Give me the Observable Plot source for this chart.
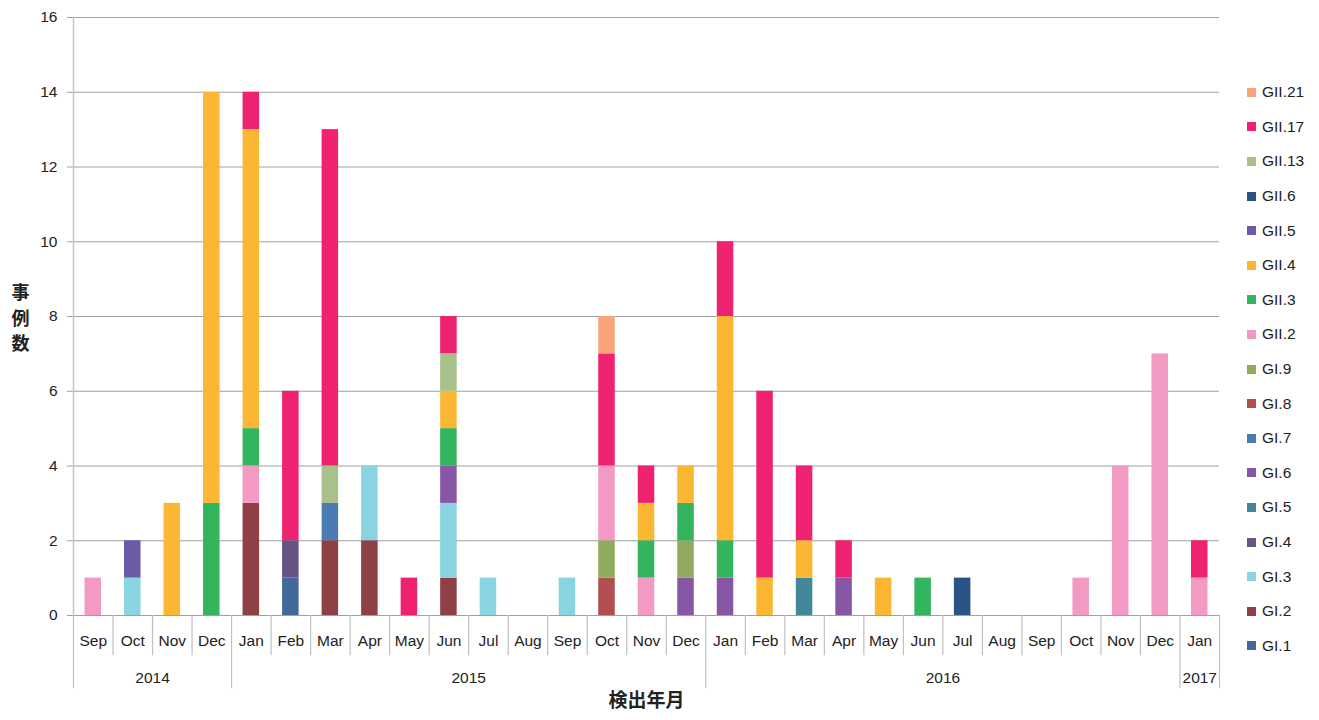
<!DOCTYPE html>
<html>
<head>
<meta charset="utf-8">
<script src="https://cdn.jsdelivr.net/npm/d3@7"></script>
<script src="https://cdn.jsdelivr.net/npm/@observablehq/plot@0.6"></script>
<style>
  body { margin: 0; background: #fff; }
  #wrap { position: relative; width: 1319px; height: 720px; font-family: "Liberation Sans", Arial, sans-serif; }
  #legend { position: absolute; left: 1247px; top: 75px; }
  .item { height: 34.6px; display: flex; align-items: center; font-size: 15.5px; color: #222; }
  .sw { width: 9px; height: 9px; margin-right: 6px; }
</style>
</head>
<body>
<div id="wrap"><div id="legend"></div></div>
<script>
const months = ["Sep","Oct","Nov","Dec","Jan","Feb","Mar","Apr","May","Jun","Jul","Aug","Sep","Oct","Nov","Dec","Jan","Feb","Mar","Apr","May","Jun","Jul","Aug","Sep","Oct","Nov","Dec","Jan"];
const yearLabels = ["2014","2015","2016","2017"];
const yearStart = [0, 4, 16, 28];
const yearEnd = [4, 16, 28, 29];

const genotypes = ["GI.1","GI.2","GI.3","GI.4","GI.5","GI.6","GI.7","GI.8","GI.9","GII.2","GII.3","GII.4","GII.5","GII.6","GII.13","GII.17","GII.21"];
const colors = ["#426998","#8E4045","#8AD3E0","#675485","#43879B","#8756A4","#4C7AB2","#B04E50","#8FAB5E","#F29AC3","#33B55E","#FBB733","#6B5BA7","#2A5486","#A8C08A","#EE2270","#F7A47A"];

//            S  O  N  D  J  F  M  A  M  J  J  A  S  O  N  D  J  F  M  A  M  J  J  A  S  O  N  D  J
const GI_1  = [0, 0, 0, 0, 0, 1, 0, 0, 0, 0, 0, 0, 0, 0, 0, 0, 0, 0, 0, 0, 0, 0, 0, 0, 0, 0, 0, 0, 0];
const GI_2  = [0, 0, 0, 0, 3, 0, 2, 2, 0, 1, 0, 0, 0, 0, 0, 0, 0, 0, 0, 0, 0, 0, 0, 0, 0, 0, 0, 0, 0];
const GI_3  = [0, 1, 0, 0, 0, 0, 0, 2, 0, 2, 1, 0, 1, 0, 0, 0, 0, 0, 0, 0, 0, 0, 0, 0, 0, 0, 0, 0, 0];
const GI_4  = [0, 0, 0, 0, 0, 1, 0, 0, 0, 0, 0, 0, 0, 0, 0, 0, 0, 0, 0, 0, 0, 0, 0, 0, 0, 0, 0, 0, 0];
const GI_5  = [0, 0, 0, 0, 0, 0, 0, 0, 0, 0, 0, 0, 0, 0, 0, 0, 0, 0, 1, 0, 0, 0, 0, 0, 0, 0, 0, 0, 0];
const GI_6  = [0, 0, 0, 0, 0, 0, 0, 0, 0, 1, 0, 0, 0, 0, 0, 1, 1, 0, 0, 1, 0, 0, 0, 0, 0, 0, 0, 0, 0];
const GI_7  = [0, 0, 0, 0, 0, 0, 1, 0, 0, 0, 0, 0, 0, 0, 0, 0, 0, 0, 0, 0, 0, 0, 0, 0, 0, 0, 0, 0, 0];
const GI_8  = [0, 0, 0, 0, 0, 0, 0, 0, 0, 0, 0, 0, 0, 1, 0, 0, 0, 0, 0, 0, 0, 0, 0, 0, 0, 0, 0, 0, 0];
const GI_9  = [0, 0, 0, 0, 0, 0, 0, 0, 0, 0, 0, 0, 0, 1, 0, 1, 0, 0, 0, 0, 0, 0, 0, 0, 0, 0, 0, 0, 0];
const GII_2 = [1, 0, 0, 0, 1, 0, 0, 0, 0, 0, 0, 0, 0, 2, 1, 0, 0, 0, 0, 0, 0, 0, 0, 0, 0, 1, 4, 7, 1];
const GII_3 = [0, 0, 0, 3, 1, 0, 0, 0, 0, 1, 0, 0, 0, 0, 1, 1, 1, 0, 0, 0, 0, 1, 0, 0, 0, 0, 0, 0, 0];
const GII_4 = [0, 0, 3,11, 8, 0, 0, 0, 0, 1, 0, 0, 0, 0, 1, 1, 6, 1, 1, 0, 1, 0, 0, 0, 0, 0, 0, 0, 0];
const GII_5 = [0, 1, 0, 0, 0, 0, 0, 0, 0, 0, 0, 0, 0, 0, 0, 0, 0, 0, 0, 0, 0, 0, 0, 0, 0, 0, 0, 0, 0];
const GII_6 = [0, 0, 0, 0, 0, 0, 0, 0, 0, 0, 0, 0, 0, 0, 0, 0, 0, 0, 0, 0, 0, 0, 1, 0, 0, 0, 0, 0, 0];
const GII_13= [0, 0, 0, 0, 0, 0, 1, 0, 0, 1, 0, 0, 0, 0, 0, 0, 0, 0, 0, 0, 0, 0, 0, 0, 0, 0, 0, 0, 0];
const GII_17= [0, 0, 0, 0, 1, 4, 9, 0, 1, 1, 0, 0, 0, 3, 1, 0, 2, 5, 2, 1, 0, 0, 0, 0, 0, 0, 0, 0, 1];
const GII_21= [0, 0, 0, 0, 0, 0, 0, 0, 0, 0, 0, 0, 0, 1, 0, 0, 0, 0, 0, 0, 0, 0, 0, 0, 0, 0, 0, 0, 0];

const series = [GI_1, GI_2, GI_3, GI_4, GI_5, GI_6, GI_7, GI_8, GI_9, GII_2, GII_3, GII_4, GII_5, GII_6, GII_13, GII_17, GII_21];
const yTicks = [0, 2, 4, 6, 8, 10, 12, 14, 16];

const table = [];
months.forEach((m, i) => {
  genotypes.forEach((g, k) => {
    const v = series[k][i];
    if (v > 0) table.push({i, g, v});
  });
});

const years = yearLabels.map((y, k) => ({label: y, start: yearStart[k], end: yearEnd[k]}));
const yearBounds = [0, ...yearEnd];
const monthBounds = d3.range(1, months.length).filter(b => !yearBounds.includes(b));

const font = "'Liberation Sans', Arial, sans-serif";
const cjk = "'Noto Sans CJK JP', sans-serif";

const chart = Plot.plot({
  width: 1319,
  height: 720,
  marginLeft: 73,
  marginRight: 100,
  marginTop: 17,
  marginBottom: 105,
  style: {fontFamily: font, background: "transparent", overflow: "visible"},
  x: {domain: [0, months.length], axis: null},
  y: {domain: [0, 16], axis: null},
  color: {domain: genotypes, range: colors},
  marks: [
    Plot.gridY(yTicks, {stroke: "#a0a0a0", strokeOpacity: 1, strokeWidth: 1.2}),
    Plot.axisY(yTicks, {label: null, tickSize: 6, tickPadding: 10, stroke: "#a0a0a0", fontSize: 15.5, fill: "#222", tickFormat: d => d}),
    Plot.ruleX([0], {stroke: "#c8c8c8", strokeWidth: 1.5}),
    Plot.rectY(table, Plot.stackY({
      x1: "i",
      x2: d => d.i + 1,
      y: "v",
      fill: "g",
      order: genotypes,
      insetLeft: 11.5,
      insetRight: 11.5
    })),
    Plot.ruleX(monthBounds, {y1: 0, y2: -1.08, stroke: "#c0c0c0", strokeWidth: 1.2}),
    Plot.ruleX(yearBounds, {y1: 0, y2: -1.96, stroke: "#c0c0c0", strokeWidth: 1.2}),
    Plot.text(months, {x: (d, i) => i + 0.5, y: 0, dy: 26, text: d => d, fontSize: 15.5, fill: "#222"}),
    Plot.text(years, {x: d => (d.start + d.end) / 2, y: 0, dy: 63, text: "label", fontSize: 15.5, fill: "#222"}),
    Plot.text(["検出年月"], {frameAnchor: "bottom", dy: 91, fontSize: 19, fontWeight: "bold", fontFamily: cjk, fill: "#222"}),
    Plot.text(["事\n例\n数"], {frameAnchor: "left", dx: -53, textAnchor: "middle", lineHeight: 1.4, fontSize: 18, fontWeight: "bold", fontFamily: cjk, fill: "#222"})
  ]
});

const wrap = document.getElementById("wrap");
wrap.insertBefore(chart, wrap.firstChild);

const legend = document.getElementById("legend");
genotypes.slice().reverse().forEach(g => {
  const item = document.createElement("div");
  item.className = "item";
  const sw = document.createElement("div");
  sw.className = "sw";
  sw.style.background = colors[genotypes.indexOf(g)];
  const t = document.createElement("span");
  t.textContent = g;
  item.appendChild(sw);
  item.appendChild(t);
  legend.appendChild(item);
});
</script>
</body>
</html>
